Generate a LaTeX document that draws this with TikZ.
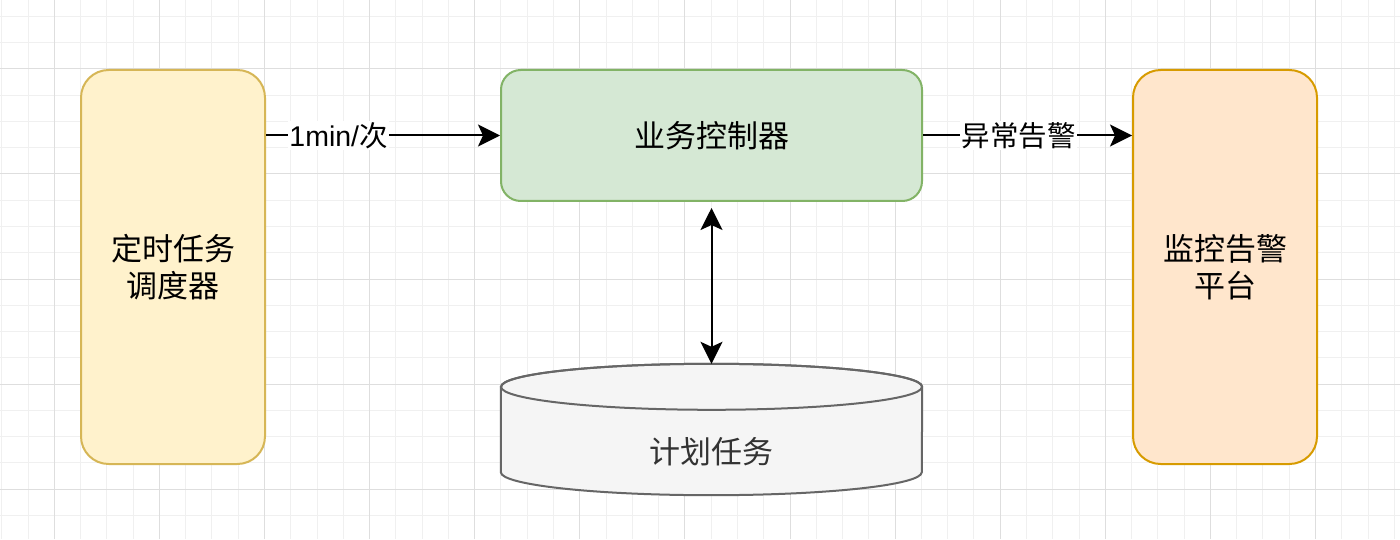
\documentclass[tikz,border=0pt]{standalone}
\usepackage{fontspec}
\setmainfont{Liberation Sans}
\newfontfamily\cjk{Noto Sans CJK SC}
\usetikzlibrary{arrows.meta}
\definecolor{yfill}{HTML}{FFF2CC}
\definecolor{ydraw}{HTML}{D6B656}
\definecolor{gfill}{HTML}{D5E8D4}
\definecolor{gdraw}{HTML}{82B366}
\definecolor{ofill}{HTML}{FFE6CC}
\definecolor{odraw}{HTML}{D79B00}
\definecolor{cfill}{HTML}{F5F5F5}
\definecolor{cdraw}{HTML}{666666}
\definecolor{ctext}{HTML}{333333}
\definecolor{minorgrid}{HTML}{F0F0F0}
\definecolor{majorgrid}{HTML}{DEDEDE}
\tikzset{
  boxstyle/.style={rectangle, line width=2pt, inner sep=0pt, align=center,
    font=\cjk\fontsize{31}{36.5}\selectfont},
  conn/.style={line width=2pt, black},
  tipstyle/.tip={Stealth[length=22pt, width=22pt, inset=5pt]},
  lbl/.style={fill=white, inner sep=1.5pt, font=\fontsize{28.5}{32}\selectfont, text=black},
  minorline/.style={draw=minorgrid, line width=1pt},
  majorline/.style={draw=majorgrid, line width=1pt},
}
\begin{document}
\begin{tikzpicture}[x=1pt,y=1pt]
\useasboundingbox (0,0) rectangle (1400,539);
\fill[white] (0,0) rectangle (1400,539);
% grid
\begin{scope}
\clip (0,0) rectangle (1400,539);
\foreach \i in {-3,...,53} {
  \draw[minorline] ({54.3+26.275*\i},0) -- ({54.3+26.275*\i},539);
}
\foreach \j in {-3,...,21} {
  \draw[minorline] (0,{470-26.25*\j}) -- (1400,{470-26.25*\j});
}
\foreach \i in {-1,...,13} {
  \draw[majorline] ({54.3+105.1*\i},0) -- ({54.3+105.1*\i},539);
}
\foreach \j in {-1,...,5} {
  \draw[majorline] (0,{470-105*\j}) -- (1400,{470-105*\j});
}
\end{scope}
% boxes
\node[boxstyle, draw=ydraw, fill=yfill, rounded corners=27.6pt,
      minimum width=184pt, minimum height=394pt] (sched) at (173,272) {定时任务\\调度器};
\node[boxstyle, draw=gdraw, fill=gfill, rounded corners=19.7pt,
      minimum width=421pt, minimum height=131pt] (ctrl) at (711.5,403.5) {业务控制器};
\node[boxstyle, draw=odraw, fill=ofill, rounded corners=27.6pt,
      minimum width=184pt, minimum height=394pt] (mon) at (1225,272) {监控告警\\平台};
% cylinder
\node[rectangle, inner sep=0pt, minimum width=421pt, minimum height=131pt] (cyl) at (711.5,109.5) {};
\path[draw=cdraw, fill=cfill, line width=2pt]
  ([yshift=-23pt]cyl.north west) -- ([yshift=23pt]cyl.south west)
  arc[start angle=180, end angle=360, x radius=210.5pt, y radius=23pt]
  -- ([yshift=-23pt]cyl.north east)
  arc[start angle=0, end angle=180, x radius=210.5pt, y radius=23pt] -- cycle;
\draw[draw=cdraw, line width=2pt] ([yshift=-23pt]cyl.north) ellipse[x radius=210.5pt, y radius=23pt];
\node[font=\cjk\fontsize{31}{36.5}\selectfont, text=ctext, inner sep=0pt] (cyltext) at ([yshift=-22.5pt]cyl.center) {计划任务};
% connectors
\draw[conn, -{tipstyle}] (sched.east |- ctrl.west) -- node[lbl, pos=0.31] {1min/{\cjk 次}} (ctrl.west);
\draw[conn, -{tipstyle}] (ctrl.east) -- node[lbl, pos=0.457, font=\cjk\fontsize{28.5}{32}\selectfont] {异常告警} (mon.west |- ctrl.east);
\draw[conn, {tipstyle}-{tipstyle}, shorten <=6pt] (ctrl.south) -- (cyl.north);
\end{tikzpicture}
\end{document}
